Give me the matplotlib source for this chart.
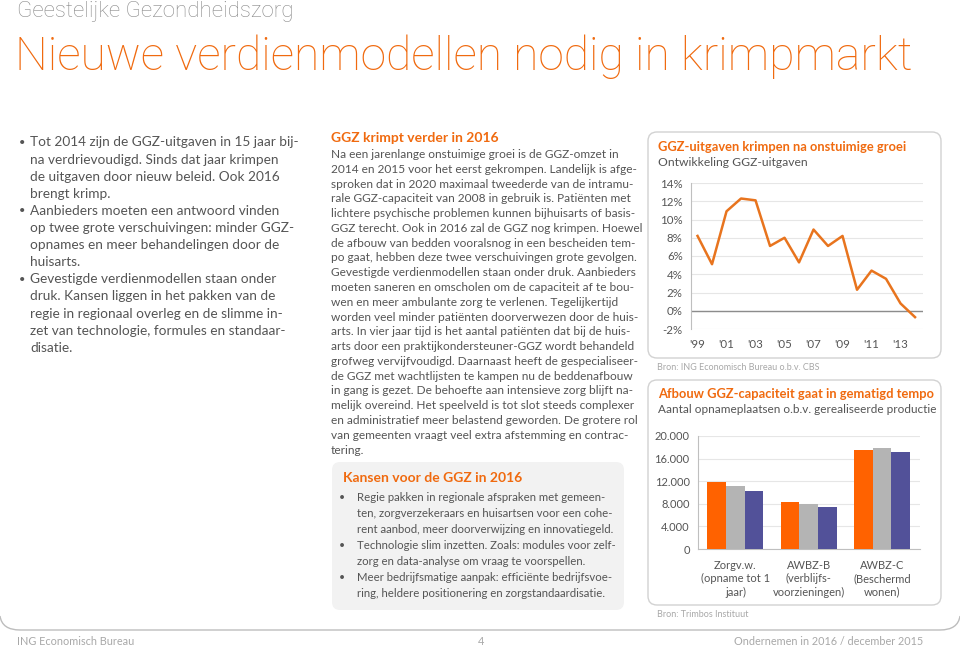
import matplotlib
matplotlib.use('Agg')
import numpy as np
import matplotlib.pyplot as plt
from matplotlib.patches import FancyBboxPatch, PathPatch
from matplotlib.path import Path

## --- data -----------------------------------------------------------------
jaren = list(range(1999, 2015))
groei_uitgaven = [8.2, 5.1, 10.9, 12.3, 12.1, 7.1, 8.0, 5.3, 8.9, 7.1, 8.2,
                  2.3, 4.4, 3.5, 0.8, -0.7]
jaar_ticks = [1999, 2001, 2003, 2005, 2007, 2009, 2011, 2013]
jaar_labels = ["'99", "'01", "'03", "'05", "'07", "'09", "'11", "'13"]
pct_ticks = [-2, 0, 2, 4, 6, 8, 10, 12, 14]

categorieen = ['Zorgv.w.\n(opname tot 1\njaar)',
               'AWBZ-B\n(verblijfs-\nvoorzieningen)',
               'AWBZ-C\n(Beschermd\nwonen)']
reeks_1 = [11800, 8250, 17550]
reeks_2 = [11100, 8050, 17800]
reeks_3 = [10200, 7350, 17200]
plaatsen_ticks = [0, 4000, 8000, 12000, 16000, 20000]
plaatsen_labels = ['0', '4.000', '8.000', '12.000', '16.000', '20.000']

links_tekst = [
    'Tot 2014 zijn de GGZ-uitgaven in 15 jaar bij-',
    'na verdrievoudigd. Sinds dat jaar krimpen',
    'de uitgaven door nieuw beleid. Ook 2016',
    'brengt krimp.',
    'Aanbieders moeten een antwoord vinden',
    'op twee grote verschuivingen: minder GGZ-',
    'opnames en meer behandelingen door de',
    'huisarts.',
    'Gevestigde verdienmodellen staan onder',
    'druk. Kansen liggen in het pakken van de',
    'regie in regionaal overleg en de slimme in-',
    'zet van technologie, formules en standaar-',
    'disatie.',
]
links_bullets = [0, 4, 8]

midden_tekst = [
    'Na een jarenlange onstuimige groei is de GGZ-omzet in',
    '2014 en 2015 voor het eerst gekrompen. Landelijk is afge-',
    'sproken dat in 2020 maximaal tweederde van de intramu-',
    'rale GGZ-capaciteit van 2008 in gebruik is. Patiënten met',
    'lichtere psychische problemen kunnen bijhuisarts of basis-',
    'GGZ terecht. Ook in 2016 zal de GGZ nog krimpen. Hoewel',
    'de afbouw van bedden vooralsnog in een bescheiden tem-',
    'po gaat, hebben deze twee verschuivingen grote gevolgen.',
    'Gevestigde verdienmodellen staan onder druk. Aanbieders',
    'moeten saneren en omscholen om de capaciteit af te bou-',
    'wen en meer ambulante zorg te verlenen. Tegelijkertijd',
    'worden veel minder patiënten doorverwezen door de huis-',
    'arts. In vier jaar tijd is het aantal patiënten dat bij de huis-',
    'arts door een praktijkondersteuner-GGZ wordt behandeld',
    'grofweg vervijfvoudigd. Daarnaast heeft de gespecialiseer-',
    'de GGZ met wachtlijsten te kampen nu de beddenafbouw',
    'in gang is gezet. De behoefte aan intensieve zorg blijft na-',
    'melijk overeind. Het speelveld is tot slot steeds complexer',
    'en administratief meer belastend geworden. De grotere rol',
    'van gemeenten vraagt veel extra afstemming en contrac-',
    'tering.',
]

kansen_tekst = [
    'Regie pakken in regionale afspraken met gemeen-',
    'ten, zorgverzekeraars en huisartsen voor een cohe-',
    'rent aanbod, meer doorverwijzing en innovatiegeld.',
    'Technologie slim inzetten. Zoals: modules voor zelf-',
    'zorg en data-analyse om vraag te voorspellen.',
    'Meer bedrijfsmatige aanpak: efficiënte bedrijfsvoe-',
    'ring, heldere positionering en zorgstandaardisatie.',
]
kansen_bullets = [0, 3, 5]

## --- style ----------------------------------------------------------------
W, H = 960, 648
ORANJE = '#F06A0F'
LIJN = '#E8741E'
TEKST = '#555555'
LICHT = '#A8A8A8'
FONT = ['Lato', 'DejaVu Sans']
plt.rcParams['font.family'] = FONT


def px_axes(left, top, right, bottom):
    """figure fractions for a box given in pixels from top-left"""
    return [left / W, 1 - bottom / H, (right - left) / W, (bottom - top) / H]


fig = plt.figure(figsize=(W / 100, H / 100), dpi=100)
bg = fig.add_axes([0, 0, 1, 1])
bg.set_xlim(0, W)
bg.set_ylim(H, 0)
bg.axis('off')

## header
bg.text(17, 12, 'Geestelijke Gezondheidszorg', fontsize=16, color='#8A8A8A',
        va='center', ha='left', family=['Roboto', 'Lato'], fontweight='light')
bg.text(15, 57, 'Nieuwe verdienmodellen nodig in krimpmarkt', fontsize=33.3,
        color=ORANJE, va='center', ha='left', family=['Roboto', 'Lato'],
        fontweight='light')

## left column
for i, line in enumerate(links_tekst):
    y = 142.5 + i * 17.1
    bg.text(30, y, line, fontsize=9.8, color=TEKST, va='center')
    if i in links_bullets:
        bg.text(19, y, '\u2022', fontsize=8, color=TEKST, va='center')

## middle column
bg.text(331, 138, 'GGZ krimpt verder in 2016', fontsize=10, color=ORANJE,
        fontweight='bold', va='center')
for i, line in enumerate(midden_tekst):
    bg.text(331, 154.5 + i * 14.78, line, fontsize=8.6, color=TEKST,
            va='center')

## kansen box
bg.add_patch(FancyBboxPatch((332, 462), 292, 148,
                            boxstyle='round,pad=0,rounding_size=8',
                            fc='#F2F2F2', ec='none'))
bg.text(343, 477.5, 'Kansen voor de GGZ in 2016', fontsize=10, color=ORANJE,
        fontweight='bold', va='center')
for i, line in enumerate(kansen_tekst):
    y = 497.5 + i * 16
    bg.text(357, y, line, fontsize=8.2, color=TEKST, va='center')
    if i in kansen_bullets:
        bg.text(339, y, '\u2022', fontsize=7.5, color=TEKST, va='center')

## chart boxes
for top, bottom in [(132, 358), (380, 605)]:
    bg.add_patch(FancyBboxPatch((648, top), 293, bottom - top,
                                boxstyle='round,pad=0,rounding_size=9',
                                fc='white', ec='#D2D2D2', lw=1))

bg.text(658, 147, 'GGZ-uitgaven krimpen na onstuimige groei', fontsize=9.3,
        color=ORANJE, fontweight='bold', va='center')
bg.text(658, 163, 'Ontwikkeling GGZ-uitgaven', fontsize=8.7, color=TEKST,
        va='center')
bg.text(657, 367.5, 'Bron: ING Economisch Bureau o.b.v. CBS', fontsize=6.5,
        color=LICHT, va='center')

bg.text(658, 394, 'Afbouw GGZ-capaciteit gaat in gematigd tempo',
        fontsize=9.3, color=ORANJE, fontweight='bold', va='center')
bg.text(658, 409.5, 'Aantal opnameplaatsen o.b.v. gerealiseerde productie',
        fontsize=8.5, color=TEKST, va='center')
bg.text(657, 614.5, 'Bron: Trimbos Instituut', fontsize=6.5, color=LICHT,
        va='center')

## page border (bottom edge only)
rand = Path([(0, 616), (2, 630), (20, 630), (940, 630), (958, 630),
             (960, 616)],
            [Path.MOVETO, Path.CURVE3, Path.CURVE3, Path.LINETO,
             Path.CURVE3, Path.CURVE3])
bg.add_patch(PathPatch(rand, fc='none', ec='#BDBDBD', lw=1))

## footer
bg.text(17, 641.5, 'ING Economisch Bureau', fontsize=7.8, color=LICHT,
        va='center')
bg.text(478, 641.5, '4', fontsize=7.8, color=LICHT, va='center')
bg.text(923, 641.5, 'Ondernemen in 2016 / december 2015', fontsize=7.8,
        color=LICHT, va='center', ha='right')

## line chart
ax1 = fig.add_axes(px_axes(691, 183, 923, 329))
ax1.patch.set_alpha(0)
ax1.plot(jaren, groei_uitgaven, color=LIJN, lw=1.8, zorder=3)
ax1.set_xlim(1998.55, 2014.55)
ax1.set_ylim(-2, 14)
ax1.set_yticks(pct_ticks)
ax1.set_yticklabels(['%d%%' % t for t in pct_ticks])
ax1.set_xticks(jaar_ticks)
ax1.set_xticklabels(jaar_labels)
ax1.grid(axis='y', color='#E6E6E6', lw=0.8)
ax1.axhline(0, color='#8C8C8C', lw=1, zorder=2)
for s in ['top', 'right', 'bottom']:
    ax1.spines[s].set_visible(False)
ax1.spines['left'].set_color('#BFBFBF')
ax1.tick_params(length=0, labelsize=8.3, labelcolor=TEKST)
ax1.tick_params(axis='y', pad=6)
ax1.tick_params(axis='x', pad=7)

## bar chart
ax2 = fig.add_axes(px_axes(698, 436, 920, 549))
ax2.patch.set_alpha(0)
x = np.arange(len(categorieen))
bw = 0.255
ax2.bar(x - bw, reeks_1, bw, color='#FF6200', zorder=3)
ax2.bar(x, reeks_2, bw, color='#B4B4B4', zorder=3)
ax2.bar(x + bw, reeks_3, bw, color='#525199', zorder=3)
ax2.set_xlim(-0.51, 2.52)
ax2.set_ylim(0, 20000)
ax2.set_yticks(plaatsen_ticks)
ax2.set_yticklabels(plaatsen_labels)
ax2.set_xticks(x)
ax2.set_xticklabels(categorieen, linespacing=1.25)
ax2.grid(axis='y', color='#E6E6E6', lw=0.8)
for s in ['top', 'right']:
    ax2.spines[s].set_visible(False)
ax2.spines['left'].set_color('#BFBFBF')
ax2.spines['bottom'].set_color('#BFBFBF')
ax2.tick_params(length=0, labelsize=8, labelcolor=TEKST)
ax2.tick_params(axis='y', pad=6)
ax2.tick_params(axis='x', pad=8)

fig.savefig('out.png', dpi=100)
